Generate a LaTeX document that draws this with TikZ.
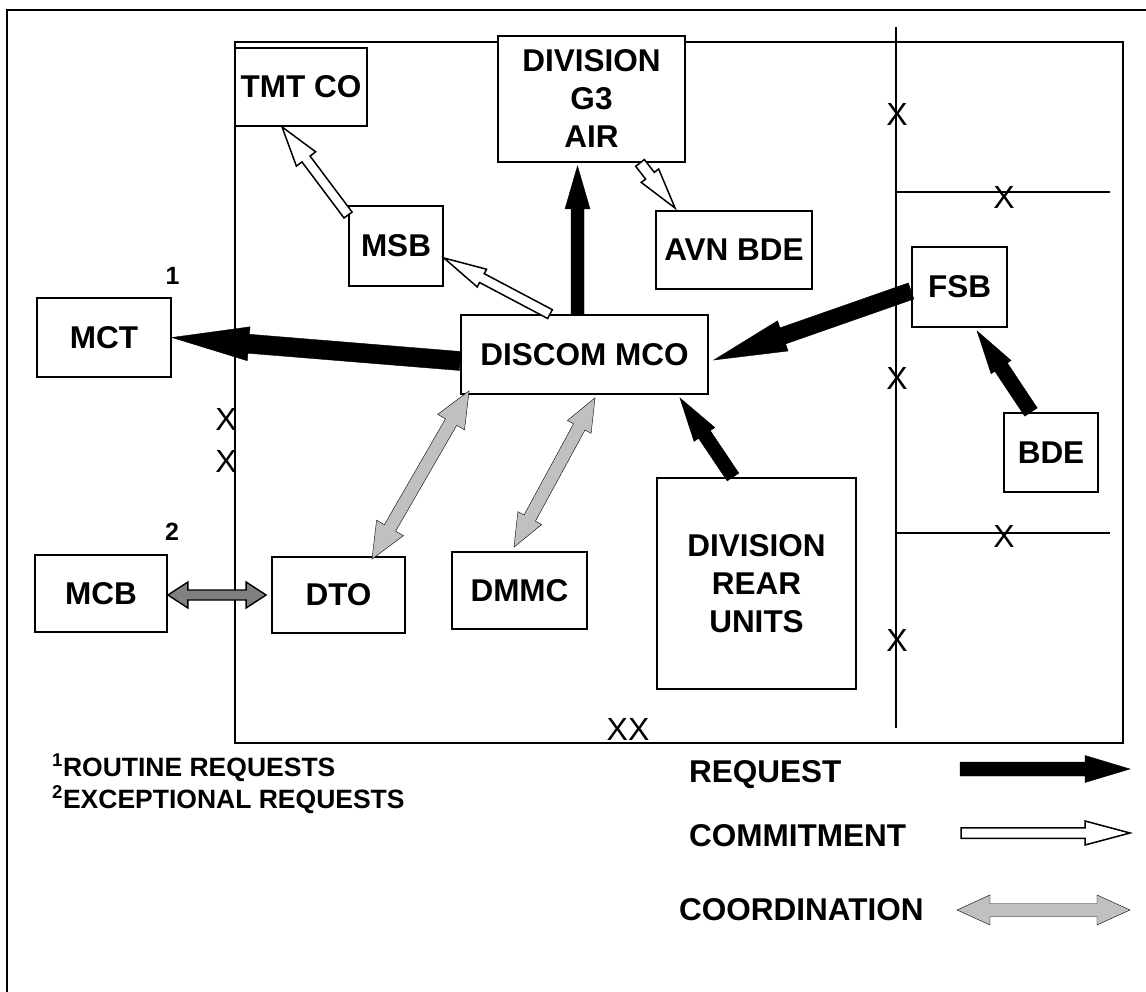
\documentclass[tikz,border=0pt]{standalone}
\usepackage{fontspec}
\setmainfont{Liberation Sans}
\usetikzlibrary{calc}
\definecolor{CoordGray}{HTML}{C0C0C0}
\definecolor{LinkGray}{HTML}{808080}

% #1 style, #2 tail, #3 tip, #4 half shaft, #5 half head, #6 head length
\newcommand{\blockarrow}[6]{%
  \draw[#1] let \p1=(#2), \p2=(#3),
    \n1={atan2(\y2-\y1,\x2-\x1)}, \n2={veclen(\x2-\x1,\y2-\y1)} in
    ($(\p1)+(\n1-90:#4)$) -- ++(\n1:\n2-#6) -- ++(\n1-90:#5-#4) -- (\p2)
    -- ($(\p2)+(\n1+180:#6)+(\n1+90:#5)$) -- ++(\n1-90:#5-#4)
    -- ++(\n1+180:\n2-#6) -- cycle;
}
\newcommand{\dblockarrow}[6]{%
  \draw[#1] let \p1=(#2), \p2=(#3),
    \n1={atan2(\y2-\y1,\x2-\x1)}, \n2={veclen(\x2-\x1,\y2-\y1)} in
    (\p1) -- ($(\p1)+(\n1:#6)+(\n1-90:#5)$) -- ++(\n1+90:#5-#4)
    -- ++(\n1:\n2-2*#6) -- ++(\n1-90:#5-#4) -- (\p2)
    -- ($(\p2)+(\n1+180:#6)+(\n1+90:#5)$) -- ++(\n1-90:#5-#4)
    -- ++(\n1+180:\n2-2*#6) -- ++(\n1+90:#5-#4) -- cycle;
}

\begin{document}
\begin{tikzpicture}[x=1pt, y=1pt,
    frame/.style={line width=1.8pt},
    unit/.style={draw, line width=1.8pt, fill=white, align=center, inner sep=0pt,
      font=\bfseries\fontsize{31.5}{38}\selectfont},
    echelon/.style={inner sep=0pt, font=\fontsize{32}{32}\selectfont},
    tag/.style={inner sep=0pt, font=\bfseries\fontsize{25}{25}\selectfont},
    note/.style={inner sep=0pt, anchor=base west, font=\bfseries\fontsize{26.5}{32}\selectfont},
    legend/.style={inner sep=0pt, anchor=base west, font=\bfseries\fontsize{31.5}{38}\selectfont},
    request/.style={fill=black},
    commitment/.style={draw=black, line width=1.5pt, fill=white},
    coordination/.style={fill=CoordGray},
    exchange/.style={draw=black, line width=1.4pt, fill=LinkGray}
  ]
  \useasboundingbox (0,0) rectangle (1146,-992);

  \draw[frame] (7,-992) |- (1146,-10);
  \draw[frame] (235,-42) rectangle (1123,-743);
  \draw[frame] (896,-27) -- (896,-728);
  \draw[frame] (896,-192) -- (1110,-192);
  \draw[frame] (896,-533) -- (1110,-533);

  \node[echelon] (x1) at (897,-114.5) {X};
  \node[echelon] (x2) at (1004,-197.5) {X};
  \node[echelon] (x3) at (897,-378.5) {X};
  \node[echelon] (x4) at (1004,-536.5) {X};
  \node[echelon] (x5) at (897,-640) {X};
  \node[echelon] (x6) at (226,-419) {X};
  \node[echelon] (x7) at (226,-461.5) {X};
  \node[echelon] (xx) at (628,-729) {XX};

  \node[unit, minimum width=132pt, minimum height=78pt] (tmt) at (301,-87) {TMT CO};
  \node[unit, minimum width=187pt, minimum height=126pt] (g3) at (591.5,-99) {DIVISION\\G3\\AIR};
  \node[unit, minimum width=94pt, minimum height=80pt] (msb) at (396,-246) {MSB};
  \node[unit, minimum width=156pt, minimum height=78pt] (avn) at (734,-250) {AVN BDE};
  \node[unit, minimum width=134pt, minimum height=79pt] (mct) at (104,-337.5) {MCT};
  \node[unit, minimum width=247pt, minimum height=79pt] (discom) at (584.5,-354.5) {DISCOM MCO};
  \node[unit, minimum width=95pt, minimum height=80pt] (fsb) at (959.5,-287) {FSB};
  \node[unit, minimum width=94pt, minimum height=79pt] (bde) at (1051,-452.5) {BDE};
  \node[unit, minimum width=132pt, minimum height=77pt] (mcb) at (101,-593.5) {MCB};
  \node[unit, minimum width=133pt, minimum height=76pt] (dto) at (338.5,-595) {DTO};
  \node[unit, minimum width=135pt, minimum height=77pt] (dmmc) at (519.5,-590.5) {DMMC};
  \node[unit, minimum width=199pt, minimum height=211pt] (rear) at (756.5,-583.5) {DIVISION\\REAR\\UNITS};

  \node[tag] (one) at (172.5,-276) {1};
  \node[tag] (two) at (172,-531.5) {2};

  \blockarrow{request}{[yshift=-6.5pt]discom.west}{mct.east}{9.5}{17}{77}
  \blockarrow{request}{[xshift=-7pt]discom.north}{[xshift=-14pt,yshift=-3pt]g3.south}{6.5}{12.5}{43}
  \blockarrow{request}{[yshift=-4pt]fsb.west}{[xshift=5pt,yshift=-5.5pt]discom.east}{8.5}{16}{73}
  \blockarrow{request}{[xshift=-23.5pt]rear.north}{[xshift=-29pt,yshift=-3pt]discom.south east}{7}{12.5}{44}
  \blockarrow{request}{[xshift=-20pt]bde.north}{[xshift=17.5pt,yshift=-3pt]fsb.south}{7.5}{12}{43.5}

  \blockarrow{commitment}{[xshift=-34.5pt]discom.north}{[yshift=-12pt]msb.east}{5}{10}{43}
  \blockarrow{commitment}{[yshift=-10pt]msb.north west}{[xshift=-19pt]tmt.south}{5}{12}{40}
  \blockarrow{commitment}{[xshift=48.5pt]g3.south}{[xshift=20pt,yshift=2pt]avn.north west}{5.5}{11}{41}

  \dblockarrow{coordination}{[xshift=33.5pt,yshift=-3pt]dto.north}{[xshift=9pt,yshift=4pt]discom.south west}{6.5}{15.5}{36}
  \dblockarrow{coordination}{[xshift=-5.5pt,yshift=4pt]dmmc.north}{[xshift=10.5pt,yshift=-3pt]discom.south}{6.5}{13.5}{33}
  \dblockarrow{exchange}{[yshift=-1.5pt]mcb.east}{[xshift=-5pt]dto.west}{5}{13}{20}

  \node[note] (note1) at (52,-776) {\textsuperscript{1}ROUTINE REQUESTS};
  \node[note] (note2) at (52,-808) {\textsuperscript{2}EXCEPTIONAL REQUESTS};

  \node[legend] (reqtext) at (689,-782) {REQUEST};
  \node[legend] (comtext) at (689,-846) {COMMITMENT};
  \node[legend] (cortext) at (679,-920) {COORDINATION};
  \coordinate (reqa) at (960,-769);
  \coordinate (reqb) at (1130,-769);
  \coordinate (coma) at (961,-833);
  \coordinate (comb) at (1130,-833);
  \coordinate (cora) at (957,-910);
  \coordinate (corb) at (1130,-910);
  \blockarrow{request}{reqa}{reqb}{7}{13.5}{45}
  \blockarrow{commitment}{coma}{comb}{5.25}{12}{45}
  \dblockarrow{coordination}{cora}{corb}{6.5}{15}{33}
\end{tikzpicture}
\end{document}
